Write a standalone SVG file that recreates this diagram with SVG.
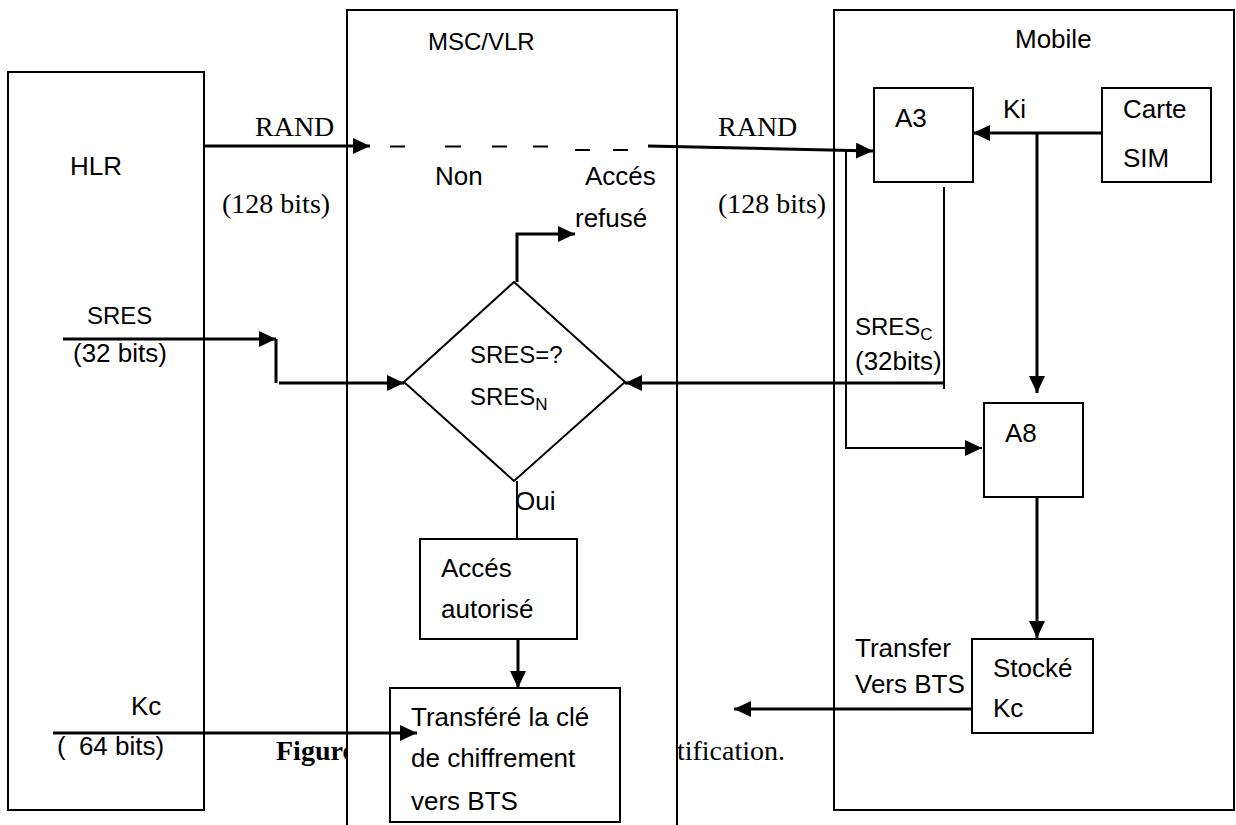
<svg xmlns="http://www.w3.org/2000/svg" width="1236" height="825" viewBox="0 0 1236 825">
  <style>
    .box { fill: #fff; stroke: #000; stroke-width: 2; }
    .t { font-family: "Liberation Sans", Arial, sans-serif; font-size: 26px; fill: #000; }
    .caps { font-size: 24px; }
    .sub { font-size: 17px; }
    .serif { font-family: "Liberation Serif", "Times New Roman", serif; font-size: 28px; fill: #000; }
    .bold { font-weight: bold; }
    .wire { fill: none; stroke: #000; stroke-width: 3; }
    .thin { fill: none; stroke: #000; stroke-width: 2; }
  </style>
  <defs>
    <marker id="arrow" markerUnits="userSpaceOnUse" markerWidth="18" markerHeight="18" refX="17" refY="8" orient="auto">
      <path d="M0,0 L17,8 L0,16 z" fill="#000"/>
    </marker>
  </defs>

  <rect width="1236" height="825" fill="#fff"/>

  <!-- caption sitting behind the columns -->
  <g id="caption">
    <text class="serif bold" x="276" y="760">Figure</text>
    <text class="serif" x="785" y="760" text-anchor="end">tification.</text>
  </g>

  <!-- columns -->
  <g id="hlr">
    <rect class="box" x="8" y="72" width="196" height="738"/>
    <text class="t" x="70" y="175">HLR</text>
  </g>
  <g id="msc-vlr">
    <rect class="box" x="347" y="10" width="330" height="840"/>
    <text class="t caps" x="428" y="50">MSC/VLR</text>
  </g>
  <g id="mobile">
    <rect class="box" x="834" y="10" width="400" height="800"/>
    <text class="t" x="1015" y="48">Mobile</text>
  </g>

  <!-- MSC/VLR nodes -->
  <g id="compare">
    <polygon class="box" points="514,282 625,382 514,481 404,382"/>
    <text class="t caps" x="470" y="363">SRES=?</text>
    <text class="t caps" x="470" y="405">SRES<tspan class="sub" dy="5">N</tspan></text>
  </g>
  <g id="acces-autorise">
    <rect class="box" x="420" y="539" width="157" height="100"/>
    <text class="t" x="441" y="577">Accés</text>
    <text class="t" x="441" y="618">autorisé</text>
  </g>
  <g id="transfert-cle">
    <rect class="box" x="390" y="688" width="230" height="134"/>
    <text class="t" x="411" y="726">Transféré la clé</text>
    <text class="t" x="411" y="767">de chiffrement</text>
    <text class="t" x="411" y="810">vers BTS</text>
  </g>

  <!-- Mobile nodes -->
  <g id="a3">
    <rect class="box" x="874" y="88" width="99" height="94"/>
    <text class="t" x="895" y="127">A3</text>
  </g>
  <g id="carte-sim">
    <rect class="box" x="1102" y="88" width="109" height="94"/>
    <text class="t" x="1123" y="118">Carte</text>
    <text class="t" x="1123" y="167">SIM</text>
  </g>
  <g id="a8">
    <rect class="box" x="984" y="403" width="99" height="94"/>
    <text class="t" x="1005" y="442">A8</text>
  </g>
  <g id="stocke-kc">
    <rect class="box" x="972" y="639" width="121" height="94"/>
    <text class="t" x="993" y="677">Stocké</text>
    <text class="t" x="993" y="717">Kc</text>
  </g>

  <!-- connectors -->
  <g id="connectors">
    <!-- RAND: HLR to MSC/VLR, then on to A3 -->
    <line class="wire" x1="204" y1="146" x2="370" y2="146" marker-end="url(#arrow)"/>
    <path class="thin" stroke-width="2.5" d="M390,146.5 H405 M445,146.5 H461 M492,146.5 H507 M533,146.5 H548 M575,150 H590 M613,150 H628"/>
    <line class="wire" x1="648" y1="146" x2="873" y2="151" marker-end="url(#arrow)"/>
    <!-- RAND branch to A8 -->
    <path class="thin" stroke-width="2.5" d="M846,150 V448 H982" marker-end="url(#arrow)"/>
    <!-- Ki from SIM card to A3 and A8 -->
    <line class="wire" x1="1102" y1="133" x2="973" y2="133" marker-end="url(#arrow)"/>
    <line class="wire" x1="1037" y1="133" x2="1037" y2="393" marker-end="url(#arrow)"/>
    <!-- SRESc from A3 to comparison -->
    <line class="thin" x1="944" y1="187" x2="944" y2="389"/>
    <line class="wire" stroke-width="2.5" x1="944" y1="383" x2="625" y2="383" marker-end="url(#arrow)"/>
    <!-- SRES from HLR to comparison -->
    <line class="wire" x1="63" y1="339" x2="276" y2="339" marker-end="url(#arrow)"/>
    <line class="wire" x1="276" y1="339" x2="276" y2="383"/>
    <line class="wire" x1="279" y1="383" x2="404" y2="383" marker-end="url(#arrow)"/>
    <!-- Non: access refused -->
    <path class="wire" stroke-width="2.5" d="M517,282 V234 H575" marker-end="url(#arrow)"/>
    <!-- Oui: access granted -->
    <line class="thin" x1="517" y1="481" x2="517" y2="539"/>
    <line class="wire" x1="518" y1="639" x2="518" y2="688" marker-end="url(#arrow)"/>
    <!-- Kc from HLR -->
    <line class="wire" x1="53" y1="733" x2="417" y2="733" marker-end="url(#arrow)"/>
    <!-- A8 to stored Kc -->
    <line class="wire" x1="1037" y1="497" x2="1037" y2="638" marker-end="url(#arrow)"/>
    <!-- stored Kc towards BTS -->
    <line class="wire" x1="972" y1="709" x2="734" y2="709" marker-end="url(#arrow)"/>
  </g>

  <!-- connector labels -->
  <g id="labels">
    <text class="serif" x="255" y="136">RAND</text>
    <text class="serif" x="222" y="213">(128 bits)</text>
    <text class="serif" x="718" y="136">RAND</text>
    <text class="serif" x="718" y="213">(128 bits)</text>
    <text class="t" x="435" y="185">Non</text>
    <text class="t" x="585" y="185">Accés</text>
    <text class="t" x="575" y="227">refusé</text>
    <text class="t" x="1003" y="118">Ki</text>
    <text class="t caps" x="855" y="335">SRES<tspan class="sub" dy="5">C</tspan></text>
    <text class="t" x="855" y="370">(32bits)</text>
    <text class="t caps" x="87" y="324">SRES</text>
    <text class="t" x="73" y="362">(32 bits)</text>
    <text class="t" x="515" y="510">Oui</text>
    <text class="t" x="131" y="715">Kc</text>
    <text class="t" x="57" y="755">( <tspan dx="6">64 bits)</tspan></text>
    <text class="t" x="855" y="657">Transfer</text>
    <text class="t" x="855" y="693">Vers BTS</text>
  </g>
</svg>
